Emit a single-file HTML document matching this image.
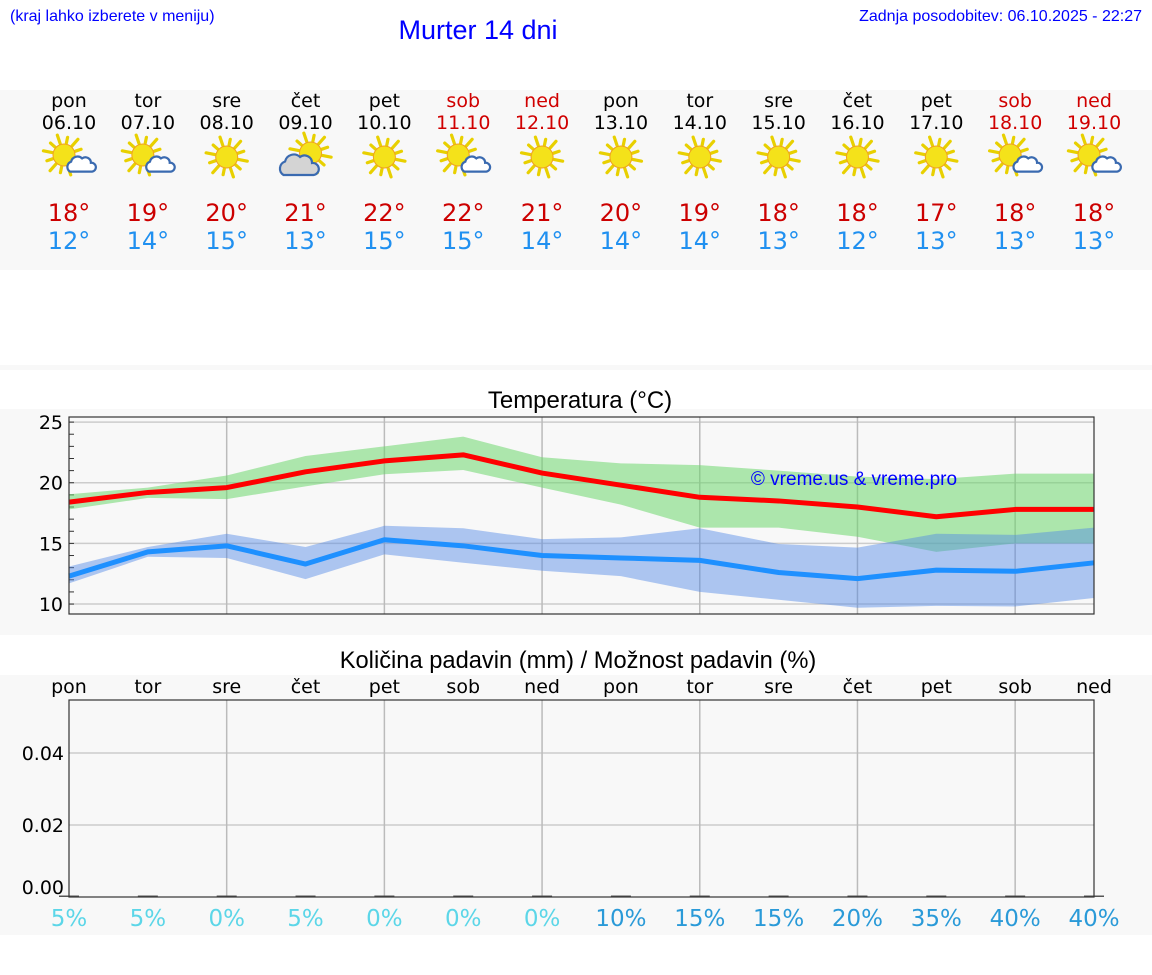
<!DOCTYPE html>
<html><head><meta charset="utf-8"><style>
body{margin:0;background:#fff;width:1152px;height:975px;overflow:hidden;font-family:"DejaVu Sans","Liberation Sans",sans-serif}
svg{display:block}
</style></head><body>
<svg id="svg" width="1152" height="975" xmlns="http://www.w3.org/2000/svg">
<rect x="0" y="90" width="1152" height="180" fill="#f8f8f8"/>
<rect x="0" y="365" width="1152" height="5" fill="#f8f8f8"/>
<rect x="0" y="409" width="1152" height="226" fill="#f8f8f8"/>
<rect x="0" y="675" width="1152" height="260" fill="#f8f8f8"/>
<text x="10" y="21" font-family="Liberation Sans,sans-serif" font-size="16" fill="#0000ff">(kraj lahko izberete v meniju)</text>
<text x="478" y="39" text-anchor="middle" font-family="Liberation Sans,sans-serif" font-size="27" fill="#0000ff">Murter 14 dni</text>
<text x="1142" y="21" text-anchor="end" font-family="Liberation Sans,sans-serif" font-size="16" fill="#0000ff">Zadnja posodobitev: 06.10.2025 - 22:27</text>
<g id="days"></g>
<text x="580" y="408" text-anchor="middle" font-family="Liberation Sans,sans-serif" font-size="24" fill="#000">Temperatura (°C)</text>
<g id="temp"></g>
<text x="578" y="668" text-anchor="middle" font-family="Liberation Sans,sans-serif" font-size="23.7" fill="#000">Količina padavin (mm) / Možnost padavin (%)</text>
<g id="precip"></g>
</svg>
<script>
const dayNames=["pon","tor","sre","čet","pet","sob","ned","pon","tor","sre","čet","pet","sob","ned"];
const dates=["06.10","07.10","08.10","09.10","10.10","11.10","12.10","13.10","14.10","15.10","16.10","17.10","18.10","19.10"];
const icons=["pc","pc","s","c","s","pc","s","s","s","s","s","s","pc","pc"];
const maxT=[18,19,20,21,22,22,21,20,19,18,18,17,18,18];
const minT=[12,14,15,13,15,15,14,14,14,13,12,13,13,13];
const maxLine=[18.4,19.2,19.6,20.9,21.8,22.3,20.8,19.8,18.8,18.5,18.0,17.2,17.8,17.8];
const maxUpper=[19.05,19.6,20.6,22.2,23.0,23.8,22.1,21.6,21.45,21.0,20.5,20.3,20.75,20.75];
const maxLower=[17.8,18.75,18.65,19.7,20.7,21.05,19.6,18.2,16.3,16.3,15.55,14.3,15.0,15.0];
const minLine=[12.3,14.3,14.8,13.3,15.3,14.8,14.0,13.8,13.6,12.6,12.1,12.8,12.7,13.4];
const minUpper=[13.1,14.7,15.8,14.7,16.45,16.25,15.35,15.5,16.25,14.95,14.65,15.8,15.7,16.3];
const minLower=[11.7,13.9,13.8,12.05,14.1,13.4,12.75,12.3,11.0,10.35,9.7,9.85,9.8,10.5];
const tempTicks=[10,15,20,25];
const precip=[0,0,0,0,0,0,0,0,0,0,0,0,0,0];
const precipTicks=[0,0.02,0.04];
const chance=[5,5,0,5,0,0,0,10,15,15,20,35,40,40];
const NS="http://www.w3.org/2000/svg";
function el(tag,attrs,parent,txt){const e=document.createElementNS(NS,tag);for(const k in attrs)e.setAttribute(k,attrs[k]);if(txt!==undefined)e.textContent=txt;parent.appendChild(e);return e;}
const X0=69,X1=1094;
const xs=i=>X0+i*(X1-X0)/(dayNames.length-1);
const weekend=i=>dayNames[i]==="sob"||dayNames[i]==="ned";
const gd=document.getElementById('days');
function sun(g,cx,cy){
  const s=el('g',{},g);
  for(let k=0;k<12;k++){const a=k*Math.PI/6+0.2;const r1=12,r2=k%2?18:21;
    el('line',{x1:cx+r1*Math.cos(a),y1:cy+r1*Math.sin(a),x2:cx+r2*Math.cos(a),y2:cy+r2*Math.sin(a),stroke:'#e8d000','stroke-width':3.2,'stroke-linecap':'round'},s);}
  el('circle',{cx:cx,cy:cy,r:11,fill:'#f4e21a',stroke:'#f0a020','stroke-width':1},s);
}
function cloud(g,cx,cy,sc,fill){
  const p=`M${cx-10*sc},${cy+6*sc} a${5*sc},${5*sc} 0 0 1 ${1*sc},${-9*sc} a${6*sc},${6*sc} 0 0 1 ${10*sc},${-3*sc} a${5*sc},${5*sc} 0 0 1 ${8*sc},${4*sc} a${4*sc},${4*sc} 0 0 1 ${1*sc},${8*sc} z`;
  el('path',{d:p,fill:fill,stroke:'#3a6ab0','stroke-width':2.2},g);
}
dayNames.forEach((d,i)=>{
  const x=xs(i);const col=weekend(i)?'#d00000':'#000';
  const t1=el('text',{x:x,y:107,'text-anchor':'middle','font-size':19,fill:col},gd,d);
  
  
  const t2=el('text',{x:x,y:129,'text-anchor':'middle','font-size':19,fill:col},gd,dates[i]);
  
  
  const ic=el('g',{},gd);
  
  
  if(icons[i]==='s'){sun(ic,x,157);}
  else if(icons[i]==='pc'){sun(ic,x-5,155);cloud(ic,x+12,165,1.1,'#fff');}
  else {sun(ic,x+5,153);cloud(ic,x-7,166,1.5,'#d4d4d4');}
  const t3=el('text',{x:x,y:221,'text-anchor':'middle','font-size':24,fill:'#cc0000'},gd,maxT[i]+'°');
  
  
  const t4=el('text',{x:x,y:249,'text-anchor':'middle','font-size':24,fill:'#2090f0'},gd,minT[i]+'°');
  
  
});
const gt=document.getElementById('temp');
const TY0=417,TY1=614,TMIN=9.18,TMAX=25.42;
const ty=v=>TY1-(v-TMIN)/(TMAX-TMIN)*(TY1-TY0);
const pl=el('rect',{x:X0,y:TY0,width:X1-X0,height:TY1-TY0,fill:'#f8f8f8'},gt);


tempTicks.forEach(v=>{
  el('line',{x1:X0,x2:X1,y1:ty(v),y2:ty(v),stroke:'#ccc','stroke-width':1.5},gt);
  const t=el('text',{x:63,y:ty(v)+7,'text-anchor':'end','font-size':19,fill:'#000'},gt,v);
  
  
});
for(let v=10;v<=25;v++){el('line',{x1:X0,x2:X0+5,y1:ty(v),y2:ty(v),stroke:'#333','stroke-width':1},gt);}
for(let i=2;i<dayNames.length;i+=2){el('line',{x1:xs(i),x2:xs(i),y1:TY0,y2:TY1,stroke:'#bbb','stroke-width':1.5},gt);}
function band(up,lo,fill,name){
  let d='M'+up.map((v,i)=>xs(i)+','+ty(v)).join(' L')+' L'+lo.map((v,i)=>xs(i)+','+ty(v)).reverse().join(' L')+' Z';
  const p=el('path',{d:d,fill:fill},gt);
  
  
}
band(maxUpper,maxLower,'rgba(110,215,110,0.55)','max-temp-range');
band(minUpper,minLower,'rgba(80,135,230,0.45)','min-temp-range');
function line(vals,col,name){
  const p=el('polyline',{points:vals.map((v,i)=>xs(i)+','+ty(v)).join(' '),fill:'none',stroke:col,'stroke-width':5,'stroke-linejoin':'round'},gt);
  
  
}
line(maxLine,'#ff0000','max-temp-line');
line(minLine,'#1e90ff','min-temp-line');
const wm=el('text',{x:854,y:485,'text-anchor':'middle','font-family':'Liberation Sans,sans-serif','font-size':19,fill:'#0000ff'},gt,'© vreme.us & vreme.pro');


el('rect',{x:X0,y:TY0,width:X1-X0,height:TY1-TY0,fill:'none',stroke:'#333','stroke-width':1.2},gt);
const gp=document.getElementById('precip');
const PY0=700,PY1=897,PMAX=0.0547;
const py=v=>PY1-v/PMAX*(PY1-PY0);
const pp=el('rect',{x:X0,y:PY0,width:X1-X0,height:PY1-PY0,fill:'#f8f8f8'},gp);


precipTicks.forEach(v=>{
  if(v>0)el('line',{x1:X0,x2:X1,y1:py(v),y2:py(v),stroke:'#ccc','stroke-width':1.5},gp);
  const t=el('text',{x:64,y:Math.min(py(v),887)+7,'text-anchor':'end','font-size':19,fill:'#000'},gp,v.toFixed(2));
  
  
});
for(let i=2;i<dayNames.length;i+=2){el('line',{x1:xs(i),x2:xs(i),y1:PY0,y2:PY1,stroke:'#bbb','stroke-width':1.5},gp);}
dayNames.forEach((d,i)=>{
  const x=xs(i);
  const t=el('text',{x:x,y:693,'text-anchor':'middle','font-size':19,fill:'#000'},gp,d);
  
  
  const h=Math.max(1.5,PY1-py(precip[i]));
  const b=el('rect',{x:x-10,y:PY1-h,width:20,height:h,fill:'#555'},gp);
  
  
  const c=el('text',{x:x,y:926,'text-anchor':'middle','font-size':23,fill:chance[i]>=10?'#2a9ad8':'#5cd6e8'},gp,chance[i]+'%');
  
  
});
el('rect',{x:X0,y:PY0,width:X1-X0,height:PY1-PY0,fill:'none',stroke:'#333','stroke-width':1.2},gp);
</script>
</body></html>
